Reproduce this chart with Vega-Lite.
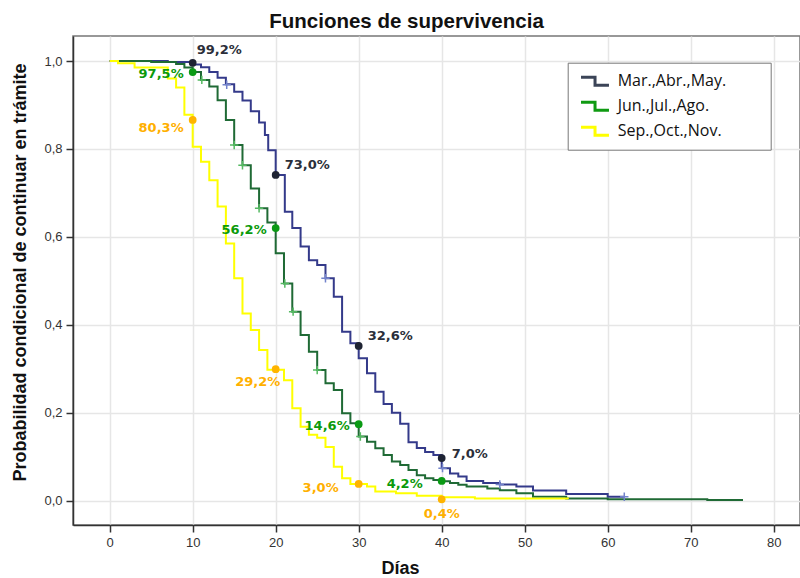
{
  "$schema": "https://vega.github.io/schema/vega-lite/v6.json",
  "width": 727,
  "height": 489,
  "autosize": {"type": "none"},
  "padding": {"left": 73, "top": 36, "right": 0, "bottom": 53},
  "background": "white",
  "title": {"text": "Funciones de supervivencia", "font": "Liberation Sans", "fontSize": 20.5, "fontWeight": "bold", "color": "#111111", "anchor": "middle", "dx": -30, "offset": 3.5},
  "config": {
    "view": {"stroke": "#777777", "strokeWidth": 1.5},
    "axis": {"labelFont": "Liberation Sans", "labelFontSize": 13, "labelColor": "#333333", "titleFont": "Liberation Sans", "titleFontSize": 18, "titleFontWeight": "bold", "titleColor": "#111111", "domainColor": "#333333", "domainWidth": 1.5, "tickColor": "#333333", "tickWidth": 1.5, "tickSize": 7, "labelPadding": 4, "grid": true, "gridColor": "#e6e6e6", "gridWidth": 1.5}
  },
  "datasets": {
    "curves": [
      {"serie": "Mar.,Abr.,May.", "dia": 0, "s": 1.0},
      {"serie": "Mar.,Abr.,May.", "dia": 7, "s": 0.998},
      {"serie": "Mar.,Abr.,May.", "dia": 10, "s": 0.992},
      {"serie": "Mar.,Abr.,May.", "dia": 11, "s": 0.986},
      {"serie": "Mar.,Abr.,May.", "dia": 12, "s": 0.975},
      {"serie": "Mar.,Abr.,May.", "dia": 13, "s": 0.962},
      {"serie": "Mar.,Abr.,May.", "dia": 14, "s": 0.947},
      {"serie": "Mar.,Abr.,May.", "dia": 15, "s": 0.93},
      {"serie": "Mar.,Abr.,May.", "dia": 16, "s": 0.91},
      {"serie": "Mar.,Abr.,May.", "dia": 17, "s": 0.886},
      {"serie": "Mar.,Abr.,May.", "dia": 18, "s": 0.86},
      {"serie": "Mar.,Abr.,May.", "dia": 18.7, "s": 0.832},
      {"serie": "Mar.,Abr.,May.", "dia": 19.1, "s": 0.797},
      {"serie": "Mar.,Abr.,May.", "dia": 20, "s": 0.741},
      {"serie": "Mar.,Abr.,May.", "dia": 21.1, "s": 0.657},
      {"serie": "Mar.,Abr.,May.", "dia": 22, "s": 0.62},
      {"serie": "Mar.,Abr.,May.", "dia": 23, "s": 0.578},
      {"serie": "Mar.,Abr.,May.", "dia": 24, "s": 0.547},
      {"serie": "Mar.,Abr.,May.", "dia": 25, "s": 0.536},
      {"serie": "Mar.,Abr.,May.", "dia": 26, "s": 0.506},
      {"serie": "Mar.,Abr.,May.", "dia": 27, "s": 0.464},
      {"serie": "Mar.,Abr.,May.", "dia": 28, "s": 0.384},
      {"serie": "Mar.,Abr.,May.", "dia": 29, "s": 0.358},
      {"serie": "Mar.,Abr.,May.", "dia": 30, "s": 0.324},
      {"serie": "Mar.,Abr.,May.", "dia": 31, "s": 0.29},
      {"serie": "Mar.,Abr.,May.", "dia": 32, "s": 0.248},
      {"serie": "Mar.,Abr.,May.", "dia": 33, "s": 0.22},
      {"serie": "Mar.,Abr.,May.", "dia": 34, "s": 0.2},
      {"serie": "Mar.,Abr.,May.", "dia": 35, "s": 0.175},
      {"serie": "Mar.,Abr.,May.", "dia": 36, "s": 0.133},
      {"serie": "Mar.,Abr.,May.", "dia": 37, "s": 0.12},
      {"serie": "Mar.,Abr.,May.", "dia": 38, "s": 0.111},
      {"serie": "Mar.,Abr.,May.", "dia": 39, "s": 0.104},
      {"serie": "Mar.,Abr.,May.", "dia": 40, "s": 0.074},
      {"serie": "Mar.,Abr.,May.", "dia": 41, "s": 0.062},
      {"serie": "Mar.,Abr.,May.", "dia": 42, "s": 0.055},
      {"serie": "Mar.,Abr.,May.", "dia": 43, "s": 0.045},
      {"serie": "Mar.,Abr.,May.", "dia": 45, "s": 0.04},
      {"serie": "Mar.,Abr.,May.", "dia": 47, "s": 0.037},
      {"serie": "Mar.,Abr.,May.", "dia": 49, "s": 0.032},
      {"serie": "Mar.,Abr.,May.", "dia": 51, "s": 0.023},
      {"serie": "Mar.,Abr.,May.", "dia": 55, "s": 0.015},
      {"serie": "Mar.,Abr.,May.", "dia": 60, "s": 0.009},
      {"serie": "Mar.,Abr.,May.", "dia": 62, "s": 0.009},
      {"serie": "Jun.,Jul.,Ago.", "dia": 0, "s": 1.0},
      {"serie": "Jun.,Jul.,Ago.", "dia": 5, "s": 0.998},
      {"serie": "Jun.,Jul.,Ago.", "dia": 8, "s": 0.993},
      {"serie": "Jun.,Jul.,Ago.", "dia": 9, "s": 0.985},
      {"serie": "Jun.,Jul.,Ago.", "dia": 10, "s": 0.975},
      {"serie": "Jun.,Jul.,Ago.", "dia": 11, "s": 0.957},
      {"serie": "Jun.,Jul.,Ago.", "dia": 12, "s": 0.942},
      {"serie": "Jun.,Jul.,Ago.", "dia": 13, "s": 0.911},
      {"serie": "Jun.,Jul.,Ago.", "dia": 14, "s": 0.866},
      {"serie": "Jun.,Jul.,Ago.", "dia": 15, "s": 0.809},
      {"serie": "Jun.,Jul.,Ago.", "dia": 16, "s": 0.763},
      {"serie": "Jun.,Jul.,Ago.", "dia": 17, "s": 0.71},
      {"serie": "Jun.,Jul.,Ago.", "dia": 18, "s": 0.665},
      {"serie": "Jun.,Jul.,Ago.", "dia": 19, "s": 0.633},
      {"serie": "Jun.,Jul.,Ago.", "dia": 20, "s": 0.563},
      {"serie": "Jun.,Jul.,Ago.", "dia": 21, "s": 0.494},
      {"serie": "Jun.,Jul.,Ago.", "dia": 22, "s": 0.43},
      {"serie": "Jun.,Jul.,Ago.", "dia": 23, "s": 0.377},
      {"serie": "Jun.,Jul.,Ago.", "dia": 24, "s": 0.339},
      {"serie": "Jun.,Jul.,Ago.", "dia": 25, "s": 0.297},
      {"serie": "Jun.,Jul.,Ago.", "dia": 26, "s": 0.267},
      {"serie": "Jun.,Jul.,Ago.", "dia": 27, "s": 0.252},
      {"serie": "Jun.,Jul.,Ago.", "dia": 28, "s": 0.199},
      {"serie": "Jun.,Jul.,Ago.", "dia": 29, "s": 0.176},
      {"serie": "Jun.,Jul.,Ago.", "dia": 30, "s": 0.146},
      {"serie": "Jun.,Jul.,Ago.", "dia": 31, "s": 0.134},
      {"serie": "Jun.,Jul.,Ago.", "dia": 32, "s": 0.119},
      {"serie": "Jun.,Jul.,Ago.", "dia": 33, "s": 0.104},
      {"serie": "Jun.,Jul.,Ago.", "dia": 34, "s": 0.089},
      {"serie": "Jun.,Jul.,Ago.", "dia": 35, "s": 0.081},
      {"serie": "Jun.,Jul.,Ago.", "dia": 36, "s": 0.07},
      {"serie": "Jun.,Jul.,Ago.", "dia": 37, "s": 0.058},
      {"serie": "Jun.,Jul.,Ago.", "dia": 38, "s": 0.051},
      {"serie": "Jun.,Jul.,Ago.", "dia": 39, "s": 0.047},
      {"serie": "Jun.,Jul.,Ago.", "dia": 40, "s": 0.044},
      {"serie": "Jun.,Jul.,Ago.", "dia": 41, "s": 0.04},
      {"serie": "Jun.,Jul.,Ago.", "dia": 42, "s": 0.036},
      {"serie": "Jun.,Jul.,Ago.", "dia": 43, "s": 0.032},
      {"serie": "Jun.,Jul.,Ago.", "dia": 45.5, "s": 0.028},
      {"serie": "Jun.,Jul.,Ago.", "dia": 47, "s": 0.024},
      {"serie": "Jun.,Jul.,Ago.", "dia": 49, "s": 0.017},
      {"serie": "Jun.,Jul.,Ago.", "dia": 51, "s": 0.009},
      {"serie": "Jun.,Jul.,Ago.", "dia": 55, "s": 0.005},
      {"serie": "Jun.,Jul.,Ago.", "dia": 60, "s": 0.003},
      {"serie": "Jun.,Jul.,Ago.", "dia": 72, "s": 0.0015},
      {"serie": "Jun.,Jul.,Ago.", "dia": 76.3, "s": 0.0015},
      {"serie": "Sep.,Oct.,Nov.", "dia": 0, "s": 1.0},
      {"serie": "Sep.,Oct.,Nov.", "dia": 1, "s": 0.995},
      {"serie": "Sep.,Oct.,Nov.", "dia": 3, "s": 0.985},
      {"serie": "Sep.,Oct.,Nov.", "dia": 7, "s": 0.96},
      {"serie": "Sep.,Oct.,Nov.", "dia": 8, "s": 0.94},
      {"serie": "Sep.,Oct.,Nov.", "dia": 9, "s": 0.878},
      {"serie": "Sep.,Oct.,Nov.", "dia": 10, "s": 0.805},
      {"serie": "Sep.,Oct.,Nov.", "dia": 11, "s": 0.771},
      {"serie": "Sep.,Oct.,Nov.", "dia": 12, "s": 0.729},
      {"serie": "Sep.,Oct.,Nov.", "dia": 13, "s": 0.669},
      {"serie": "Sep.,Oct.,Nov.", "dia": 14, "s": 0.585},
      {"serie": "Sep.,Oct.,Nov.", "dia": 15, "s": 0.506},
      {"serie": "Sep.,Oct.,Nov.", "dia": 16, "s": 0.426},
      {"serie": "Sep.,Oct.,Nov.", "dia": 17, "s": 0.388},
      {"serie": "Sep.,Oct.,Nov.", "dia": 18, "s": 0.343},
      {"serie": "Sep.,Oct.,Nov.", "dia": 19, "s": 0.298},
      {"serie": "Sep.,Oct.,Nov.", "dia": 21, "s": 0.274},
      {"serie": "Sep.,Oct.,Nov.", "dia": 22, "s": 0.21},
      {"serie": "Sep.,Oct.,Nov.", "dia": 23, "s": 0.168},
      {"serie": "Sep.,Oct.,Nov.", "dia": 24, "s": 0.15},
      {"serie": "Sep.,Oct.,Nov.", "dia": 25, "s": 0.143},
      {"serie": "Sep.,Oct.,Nov.", "dia": 26, "s": 0.122},
      {"serie": "Sep.,Oct.,Nov.", "dia": 27, "s": 0.077},
      {"serie": "Sep.,Oct.,Nov.", "dia": 28, "s": 0.051},
      {"serie": "Sep.,Oct.,Nov.", "dia": 29, "s": 0.038},
      {"serie": "Sep.,Oct.,Nov.", "dia": 31, "s": 0.032},
      {"serie": "Sep.,Oct.,Nov.", "dia": 32, "s": 0.021},
      {"serie": "Sep.,Oct.,Nov.", "dia": 34.5, "s": 0.017},
      {"serie": "Sep.,Oct.,Nov.", "dia": 37, "s": 0.011},
      {"serie": "Sep.,Oct.,Nov.", "dia": 40, "s": 0.008},
      {"serie": "Sep.,Oct.,Nov.", "dia": 44, "s": 0.005},
      {"serie": "Sep.,Oct.,Nov.", "dia": 55.2, "s": 0.004}
    ],
    "censor": [
      {"serie": "Mar.,Abr.,May.", "dia": 14.1, "s": 0.946},
      {"serie": "Mar.,Abr.,May.", "dia": 26, "s": 0.506},
      {"serie": "Mar.,Abr.,May.", "dia": 40.1, "s": 0.074},
      {"serie": "Mar.,Abr.,May.", "dia": 47, "s": 0.037},
      {"serie": "Mar.,Abr.,May.", "dia": 62, "s": 0.009},
      {"serie": "Jun.,Jul.,Ago.", "dia": 11.1, "s": 0.957},
      {"serie": "Jun.,Jul.,Ago.", "dia": 15, "s": 0.809},
      {"serie": "Jun.,Jul.,Ago.", "dia": 16, "s": 0.763},
      {"serie": "Jun.,Jul.,Ago.", "dia": 18, "s": 0.665},
      {"serie": "Jun.,Jul.,Ago.", "dia": 21.1, "s": 0.494},
      {"serie": "Jun.,Jul.,Ago.", "dia": 22.1, "s": 0.43},
      {"serie": "Jun.,Jul.,Ago.", "dia": 25, "s": 0.297},
      {"serie": "Jun.,Jul.,Ago.", "dia": 30.2, "s": 0.146}
    ],
    "marks": [
      {"serie": "Mar.,Abr.,May.", "dia": 10, "s": 0.996, "etiqueta": "99,2%"},
      {"serie": "Mar.,Abr.,May.", "dia": 20, "s": 0.741, "etiqueta": "73,0%"},
      {"serie": "Mar.,Abr.,May.", "dia": 30, "s": 0.352, "etiqueta": "32,6%"},
      {"serie": "Mar.,Abr.,May.", "dia": 40, "s": 0.097, "etiqueta": "7,0%"},
      {"serie": "Jun.,Jul.,Ago.", "dia": 10, "s": 0.975, "etiqueta": "97,5%"},
      {"serie": "Jun.,Jul.,Ago.", "dia": 20, "s": 0.62, "etiqueta": "56,2%"},
      {"serie": "Jun.,Jul.,Ago.", "dia": 30, "s": 0.174, "etiqueta": "14,6%"},
      {"serie": "Jun.,Jul.,Ago.", "dia": 40, "s": 0.045, "etiqueta": "4,2%"},
      {"serie": "Sep.,Oct.,Nov.", "dia": 10, "s": 0.866, "etiqueta": "80,3%"},
      {"serie": "Sep.,Oct.,Nov.", "dia": 20, "s": 0.299, "etiqueta": "29,2%"},
      {"serie": "Sep.,Oct.,Nov.", "dia": 30, "s": 0.038, "etiqueta": "3,0%"},
      {"serie": "Sep.,Oct.,Nov.", "dia": 40, "s": 0.003, "etiqueta": "0,4%"}
    ]
  },
  "encoding": {
    "x": {"field": "dia", "type": "quantitative", "scale": {"domain": [-4.42, 83.17], "nice": false, "zero": false},
      "axis": {"values": [0, 10, 20, 30, 40, 50, 60, 70, 80], "title": "Días", "titleX": 327, "titleY": 43, "titleBaseline": "middle", "titleAlign": "center"}},
    "y": {"field": "s", "type": "quantitative", "scale": {"domain": [-0.0553, 1.0569], "nice": false, "zero": false},
      "axis": {"values": [0, 0.2, 0.4, 0.6, 0.8, 1.0], "labelExpr": "replace(format(datum.value, '.1f'), '.', ',')", "title": "Probabilidad condicional de continuar en trámite", "titleX": -53, "titleY": 236, "titleBaseline": "middle", "titleAlign": "center", "titleAngle": -90}}
  },
  "layer": [
    {
      "data": {"name": "curves"},
      "mark": {"type": "line", "interpolate": "step-after", "strokeWidth": 2},
      "encoding": {
        "color": {"field": "serie", "type": "nominal", "scale": {"domain": ["Sep.,Oct.,Nov.", "Jun.,Jul.,Ago.", "Mar.,Abr.,May."], "range": ["#ffff00", "#1f6a35", "#343a8a"]}, "legend": null}
      }
    },
    {
      "data": {"name": "marks"},
      "mark": {"type": "line", "opacity": 0},
      "encoding": {
        "color": {"field": "serie", "type": "nominal", "scale": {"domain": ["Mar.,Abr.,May.", "Jun.,Jul.,Ago.", "Sep.,Oct.,Nov."], "range": ["#3b4457", "#0f9a12", "#ffff00"]},
          "legend": {"orient": "none", "legendX": 494.7, "legendY": 26.7, "title": null, "padding": 8, "strokeColor": "#777777", "fillColor": "white", "cornerRadius": 0,
            "symbolType": "M-0.6,-0.46L1.02,-0.46L1.02,0.46L2.63,0.46", "symbolSize": 300, "symbolStrokeWidth": 3, "symbolFillColor": "transparent", "symbolOpacity": 1,
            "labelFont": "Open Sans", "labelFontSize": 16, "labelColor": "#111111", "labelOffset": 21, "rowPadding": 4, "labelLimit": 400,
            "labelExpr": "datum.label + '\u2003\u2003\u00a0\u200b'"}}
      }
    },
    {
      "data": {"name": "censor"},
      "mark": {"type": "point", "shape": "M-1,0L1,0M0,-1L0,1", "filled": false, "size": 70, "strokeWidth": 1.5, "opacity": 1},
      "encoding": {
        "color": {"field": "serie", "type": "nominal", "scale": {"domain": ["Mar.,Abr.,May.", "Jun.,Jul.,Ago."], "range": ["#7383cc", "#55b962"]}, "legend": null}
      }
    },
    {
      "data": {"name": "marks"},
      "mark": {"type": "point", "filled": true, "size": 60, "opacity": 1},
      "encoding": {
        "color": {"field": "serie", "type": "nominal", "scale": {"domain": ["Mar.,Abr.,May.", "Jun.,Jul.,Ago.", "Sep.,Oct.,Nov."], "range": ["#1e2333", "#0a9a14", "#ffb400"]}, "legend": null}
      }
    },
    {
      "data": {"name": "marks"},
      "transform": [{"filter": "datum.serie == 'Mar.,Abr.,May.' && datum.dia == 10"}],
      "mark": {"type": "text", "align": "left", "baseline": "middle", "dx": 4, "dy": -13, "font": "DejaVu Sans", "fontSize": 13, "fontWeight": "bold", "color": "#2b2f3a"},
      "encoding": {"text": {"field": "etiqueta"}}
    },
    {
      "data": {"name": "marks"},
      "transform": [{"filter": "datum.serie == 'Mar.,Abr.,May.' && (datum.dia == 20 || datum.dia == 30)"}],
      "mark": {"type": "text", "align": "left", "baseline": "middle", "dx": 9, "dy": -10, "font": "DejaVu Sans", "fontSize": 13, "fontWeight": "bold", "color": "#2b2f3a"},
      "encoding": {"text": {"field": "etiqueta"}}
    },
    {
      "data": {"name": "marks"},
      "transform": [{"filter": "datum.serie == 'Mar.,Abr.,May.' && datum.dia == 40"}],
      "mark": {"type": "text", "align": "left", "baseline": "middle", "dx": 10, "dy": -4, "font": "DejaVu Sans", "fontSize": 13, "fontWeight": "bold", "color": "#2b2f3a"},
      "encoding": {"text": {"field": "etiqueta"}}
    },
    {
      "data": {"name": "marks"},
      "transform": [{"filter": "datum.serie == 'Jun.,Jul.,Ago.' && datum.dia < 35"}],
      "mark": {"type": "text", "align": "right", "baseline": "middle", "dx": -9, "dy": 2, "font": "DejaVu Sans", "fontSize": 13, "fontWeight": "bold", "color": "#0b9a0b"},
      "encoding": {"text": {"field": "etiqueta"}}
    },
    {
      "data": {"name": "marks"},
      "transform": [{"filter": "datum.serie == 'Jun.,Jul.,Ago.' && datum.dia == 40"}],
      "mark": {"type": "text", "align": "right", "baseline": "middle", "dx": -19, "dy": 3, "font": "DejaVu Sans", "fontSize": 13, "fontWeight": "bold", "color": "#0b9a0b"},
      "encoding": {"text": {"field": "etiqueta"}}
    },
    {
      "data": {"name": "marks"},
      "transform": [{"filter": "datum.serie == 'Sep.,Oct.,Nov.' && datum.dia == 10"}],
      "mark": {"type": "text", "align": "right", "baseline": "middle", "dx": -9, "dy": 8, "font": "DejaVu Sans", "fontSize": 13, "fontWeight": "bold", "color": "#ffb000"},
      "encoding": {"text": {"field": "etiqueta"}}
    },
    {
      "data": {"name": "marks"},
      "transform": [{"filter": "datum.serie == 'Sep.,Oct.,Nov.' && datum.dia == 20"}],
      "mark": {"type": "text", "align": "center", "baseline": "middle", "dx": -18, "dy": 13, "font": "DejaVu Sans", "fontSize": 13, "fontWeight": "bold", "color": "#ffb000"},
      "encoding": {"text": {"field": "etiqueta"}}
    },
    {
      "data": {"name": "marks"},
      "transform": [{"filter": "datum.serie == 'Sep.,Oct.,Nov.' && datum.dia == 30"}],
      "mark": {"type": "text", "align": "right", "baseline": "middle", "dx": -20, "dy": 4, "font": "DejaVu Sans", "fontSize": 13, "fontWeight": "bold", "color": "#ffb000"},
      "encoding": {"text": {"field": "etiqueta"}}
    },
    {
      "data": {"name": "marks"},
      "transform": [{"filter": "datum.serie == 'Sep.,Oct.,Nov.' && datum.dia == 40"}],
      "mark": {"type": "text", "align": "center", "baseline": "middle", "dx": 0, "dy": 15, "font": "DejaVu Sans", "fontSize": 13, "fontWeight": "bold", "color": "#ffb000"},
      "encoding": {"text": {"field": "etiqueta"}}
    }
  ],
  "resolve": {"scale": {"color": "independent"}}
}
